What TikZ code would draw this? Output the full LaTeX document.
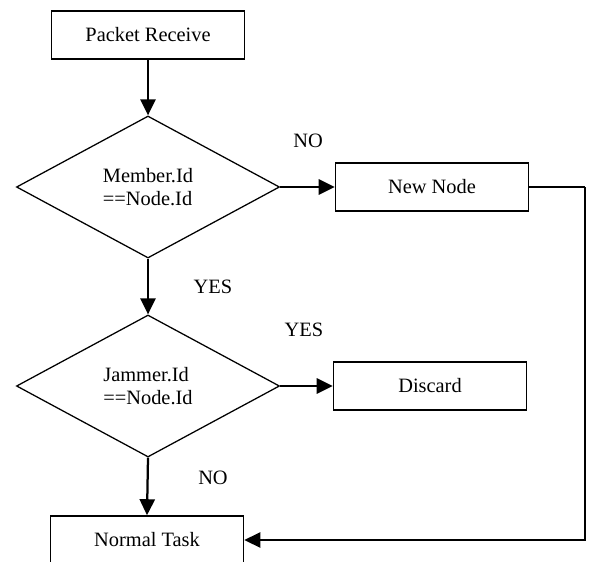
\documentclass[tikz,border=0pt]{standalone}
\usepackage{fontspec}
\setmainfont{Liberation Serif}
\usetikzlibrary{arrows.meta, positioning, shapes.geometric}
\newcommand{\flowFont}{\fontsize{14.5}{16.4}\selectfont}
\tikzset{
    taskBox/.style={rectangle, draw=black, line width=1.1pt, fill=white, minimum width=4.825cm, minimum height=1.2cm, inner sep=0pt, font=\flowFont},
    testNode/.style={diamond, draw=black, line width=0.9pt, minimum width=6.575cm, minimum height=3.55cm, inner sep=0pt, align=left, font=\flowFont},
    flowLine/.style={-{Triangle[length=4mm, width=3.8mm]}, line width=1.6pt},
    backLine/.style={line width=1pt},
    branchLabel/.style={font=\flowFont}
}

\begin{document}
\begin{tikzpicture}[x=0.025cm, y=-0.025cm]

    \clip (0,0) rectangle (592,561);

    % --- Steps and tests ---
    \node[taskBox] (recv) at (148,35) {Packet Receive};
    \node[testNode] (member) at (148,187) {Member.Id\\==Node.Id};
    \node[taskBox] (newnode) at (432,187) {New Node};
    \node[testNode] (jammer) at (148,386) {Jammer.Id\\==Node.Id};
    \node[taskBox] (discard) at (430,386) {Discard};
    \node[taskBox] (normal) at (147,540) {Normal Task};
    \coordinate (turn) at (585,187);

    % --- Connectors ---
    \draw[flowLine] (recv.south) -- (member.north);
    \draw[flowLine] (member.east) -- (newnode.west);
    \draw[flowLine] (member.south) -- (jammer.north);
    \draw[flowLine] (jammer.east) -- (discard.west);
    \draw[flowLine] (jammer.south) -- (normal.north);
    \draw[backLine] (newnode.east) -- (turn);
    \draw[flowLine, line width=1.2pt] (turn) |- (normal.east);

    % --- Branch labels ---
    \node[branchLabel] (noNew) at (308,141) {NO};
    \node[branchLabel] (yesMember) at (213,287) {YES};
    \node[branchLabel] (yesDiscard) at (304,330) {YES};
    \node[branchLabel] (noNormal) at (213,478) {NO};

\end{tikzpicture}
\end{document}
